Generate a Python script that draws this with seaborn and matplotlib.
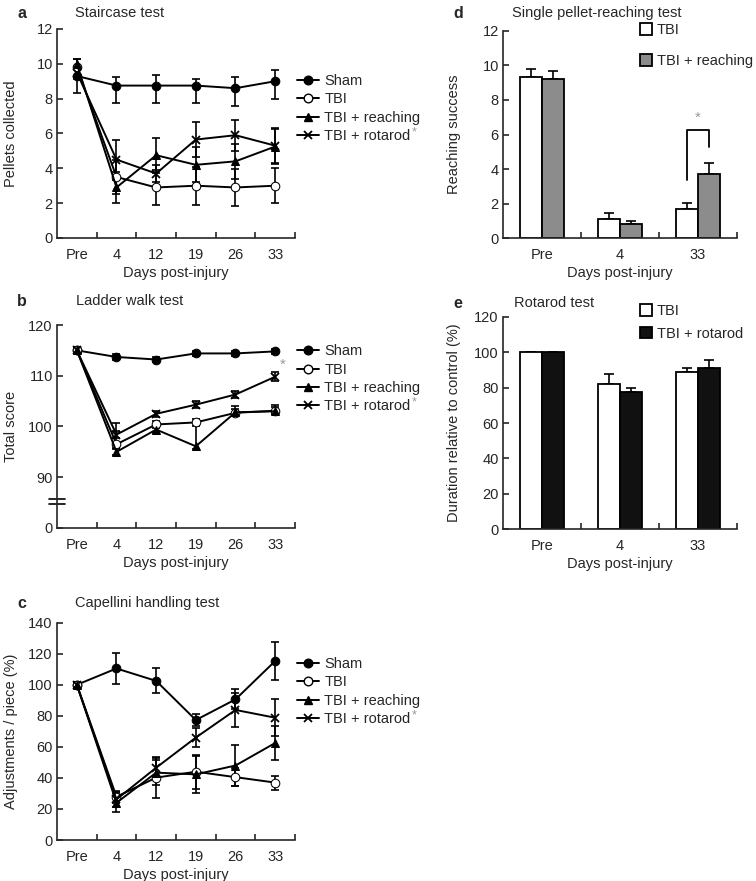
import numpy as np
import pandas as pd
import matplotlib.pyplot as plt
import seaborn as sns
from matplotlib.lines import Line2D
from matplotlib.transforms import blended_transform_factory

sns.set_style("ticks")
plt.rcParams['font.family'] = ['Liberation Sans', 'DejaVu Sans']
plt.rcParams['font.size'] = 10.5
plt.rcParams['axes.linewidth'] = 1.2

# ---- data ----
days = ["Pre", "4", "12", "19", "26", "33"]
groups = ["Sham", "TBI", "TBI + reaching", "TBI + rotarod"]

# a: staircase test (pellets collected)
stair_sham = [9.3, 8.75, 8.75, 8.75, 8.6, 9.0]
stair_sham_err = [[1.0, 1.0, 1.0, 1.0, 1.0, 1.0], [0.5, 0.5, 0.6, 0.35, 0.65, 0.65]]
stair_tbi = [9.8, 3.5, 2.9, 3.0, 2.9, 3.0]
stair_tbi_err = [0.5, 1.0, 1.0, 1.1, 1.05, 1.0]
stair_reach = [10.0, 2.9, 4.75, 4.2, 4.4, 5.25]
stair_reach_err = [0.3, 0.9, 1.0, 1.0, 1.0, 1.0]
stair_rota = [9.5, 4.5, 3.7, 5.65, 5.9, 5.3]
stair_rota_err = [0.4, 1.15, 0.5, 1.0, 0.9, 1.0]

# b: ladder walk test (total score)
ladder_sham = [115.0, 113.7, 113.2, 114.4, 114.4, 114.8]
ladder_sham_err = [0.6, 0.5, 0.5, 0.5, 0.5, 0.5]
ladder_tbi = [115.0, 96.5, 100.4, 100.8, 102.7, 103.1]
ladder_tbi_err = [[0.6, 0.8, 0.7, 0.7, 0.7, 0.7], [0.6, 4.2, 0.7, 0.7, 0.7, 0.7]]
ladder_reach = [115.0, 95.0, 99.4, 96.1, 102.8, 103.0]
ladder_reach_err = [[0.6, 0.6, 0.6, 0.6, 0.6, 0.6], [0.6, 0.6, 0.6, 4.7, 1.2, 1.2]]
ladder_rota = [115.0, 98.4, 102.5, 104.3, 106.3, 109.8]
ladder_rota_err = [0.6, 0.7, 0.6, 0.7, 0.7, 0.9]

# c: capellini handling test (adjustments / piece, %)
cap_sham = [100, 110.5, 102.5, 77.3, 90.6, 115.3]
cap_sham_err = [1.5, 10, 8, 4, 6.5, 12]
cap_tbi = [100, 27.9, 40.2, 44.0, 40.5, 37.0]
cap_tbi_err = [1.5, 4, 13, 11, 6, 4.5]
cap_reach = [100, 24.0, 43.4, 42.3, 48.0, 62.5]
cap_reach_err = [1.5, 6, 8, 12, 13, 11]
cap_rota = [100, 26.2, 46.6, 66.0, 83.8, 78.8]
cap_rota_err = [1.5, 5, 6, 6, 11, 12]

# d: single pellet-reaching test
bar_days = ["Pre", "4", "33"]
reach_tbi = [9.3, 1.1, 1.68]
reach_tbi_err = [0.47, 0.35, 0.38]
reach_train = [9.23, 0.81, 3.72]
reach_train_err = [0.45, 0.2, 0.62]

# e: rotarod test
rota_tbi = [100, 82.1, 89.0]
rota_tbi_err = [0, 5.6, 1.9]
rota_train = [100, 77.7, 91.2]
rota_train_err = [0, 1.9, 4.3]

# ---- styling ----
styles = {
    "Sham": dict(marker="o", mfc="black", ms=6.2),
    "TBI": dict(marker="o", mfc="white", ms=6.2),
    "TBI + reaching": dict(marker="^", mfc="black", ms=6.2),
    "TBI + rotarod": dict(marker="x", mfc="black", ms=6.2, mew=1.3),
}

fig = plt.figure(figsize=(7.56, 8.81), dpi=100)
ax_a = fig.add_axes([0.0754, 0.7299, 0.3148, 0.2372])
ax_b = fig.add_axes([0.0754, 0.4007, 0.3148, 0.2304])
ax_c = fig.add_axes([0.0754, 0.0465, 0.3148, 0.2467])
ax_d = fig.add_axes([0.6653, 0.7295, 0.3095, 0.2356])
ax_e = fig.add_axes([0.6653, 0.3992, 0.3095, 0.2413])

pos = np.arange(len(days))


def line_panel(ax, series, errs, ylim, yticks, ylabels, ylabel, leg_y):
    handles = []
    for g, y, e in zip(groups, series, errs):
        df = pd.DataFrame({"x": pos, "y": y})
        sns.lineplot(data=df, x="x", y="y", ax=ax, color="black", lw=1.4,
                     mec="black", zorder=3, **styles[g])
        ax.errorbar(pos, y, yerr=e, fmt="none", ecolor="black",
                    elinewidth=1.2, capsize=2.8, capthick=1.2, zorder=2)
        handles.append(Line2D([], [], color="black", lw=1.4, mec="black", **styles[g]))
    ax.set_xlim(-0.5, 5.5)
    ax.set_ylim(*ylim)
    ax.set_yticks(yticks)
    ax.set_yticklabels(ylabels)
    ax.set_xticks(pos)
    ax.set_xticklabels(days)
    ax.set_xticks(pos + 0.5, minor=True)
    ax.tick_params(axis="x", which="major", length=0, pad=7)
    ax.tick_params(axis="x", which="minor", direction="in", length=4, width=1.2)
    ax.tick_params(axis="y", direction="in", length=4, width=1.2, pad=3)
    ax.set_xlabel("Days post-injury", labelpad=3)
    ax.set_ylabel(ylabel)
    ax.yaxis.set_label_coords(-0.165, 0.5)
    sns.despine(ax=ax)
    leg = ax.legend(handles, groups, loc="upper left", bbox_to_anchor=(1.01, leg_y),
                    frameon=False, numpoints=1, handlelength=1.5,
                    handletextpad=0.35, labelspacing=0.3, borderaxespad=0,
                    borderpad=0)
    return leg


leg_a = line_panel(ax_a, [stair_sham, stair_tbi, stair_reach, stair_rota],
                   [stair_sham_err, stair_tbi_err, stair_reach_err, stair_rota_err],
                   (0, 12), np.arange(0, 13, 2), [str(v) for v in range(0, 13, 2)],
                   "Pellets collected", 0.785)
leg_b = line_panel(ax_b, [ladder_sham, ladder_tbi, ladder_reach, ladder_rota],
                   [ladder_sham_err, ladder_tbi_err, ladder_reach_err, ladder_rota_err],
                   (80, 120), [80, 90, 100, 110, 120], ["0", "90", "100", "110", "120"],
                   "Total score", 0.905)
leg_c = line_panel(ax_c, [cap_sham, cap_tbi, cap_reach, cap_rota],
                   [cap_sham_err, cap_tbi_err, cap_reach_err, cap_rota_err],
                   (0, 140), np.arange(0, 141, 20), [str(v) for v in range(0, 141, 20)],
                   "Adjustments / piece (%)", 0.842)

# axis break on panel b
tr = blended_transform_factory(ax_b.transAxes, ax_b.transData)
for yb in (85.8, 84.8):
    ax_b.plot([-0.035, 0.035], [yb, yb], color="black", lw=1.2, transform=tr,
              clip_on=False)
ax_b.text(5.18, 112.2, "*", color="#999999", fontsize=11, ha="center", va="center")


def bar_panel(ax, v1, e1, v2, e2, labels, color2, ylim, yticks, ylabel, leg_y, spacing):
    df = pd.DataFrame({"day": bar_days * 2, "val": v1 + v2,
                       "grp": [labels[0]] * 3 + [labels[1]] * 3})
    sns.barplot(data=df, x="day", y="val", hue="grp", ax=ax, errorbar=None,
                palette=["white", color2], edgecolor="black", linewidth=1.3,
                width=0.56, gap=0, saturation=1)
    bars = [p for p in ax.patches if p.get_width() < 1][:6]
    xs = [b.get_x() + b.get_width() / 2 for b in bars]
    hs = [b.get_height() for b in bars]
    errs = e1 + e2
    ax.errorbar(xs, hs, yerr=[np.zeros(6), errs], fmt="none", ecolor="black",
                elinewidth=1.2, capsize=3.5, capthick=1.2, zorder=0)
    ax.set_xlim(-0.5, 2.5)
    ax.set_ylim(*ylim)
    ax.set_yticks(yticks)
    ax.set_xticks([0.5, 1.5, 2.5], minor=True)
    ax.tick_params(axis="x", which="major", length=0, pad=7)
    ax.tick_params(axis="x", which="minor", direction="in", length=4, width=1.2)
    ax.tick_params(axis="y", direction="in", length=4, width=1.2, pad=3)
    ax.set_xlabel("Days post-injury", labelpad=3)
    ax.set_ylabel(ylabel)
    ax.yaxis.set_label_coords(-0.18, 0.5)
    sns.despine(ax=ax)
    h, l = ax.get_legend_handles_labels()
    ax.legend(h, l, loc="upper left", bbox_to_anchor=(0.585, leg_y), frameon=False,
              handlelength=0.85, handleheight=0.85, handletextpad=0.3,
              labelspacing=spacing, borderaxespad=0, borderpad=0)
    return xs


xs_d = bar_panel(ax_d, reach_tbi, reach_tbi_err, reach_train, reach_train_err,
                 ["TBI", "TBI + reaching"], "#8c8c8c", (0, 12), np.arange(0, 13, 2),
                 "Reaching success", 1.036, 1.15)
bar_panel(ax_e, rota_tbi, rota_tbi_err, rota_train, rota_train_err,
          ["TBI", "TBI + rotarod"], "#111111", (0, 120), np.arange(0, 121, 20),
          "Duration relative to control (%)", 1.06, 0.6)

# significance bracket on panel d (33 days)
ax_d.plot([xs_d[2], xs_d[2], xs_d[5], xs_d[5]], [3.37, 6.26, 6.26, 5.3],
          color="black", lw=1.3)
ax_d.text((xs_d[2] + xs_d[5]) / 2, 6.95, "*", color="#999999", fontsize=11,
          ha="center", va="center")

# panel letters and titles
def title(x_px, y_px, letter, text, lx_px):
    fig.text(lx_px / 756, 1 - y_px / 881, letter, fontweight="bold", fontsize=11.5,
             ha="center", va="center")
    fig.text(x_px / 756, 1 - y_px / 881, text, fontsize=10.5, ha="left", va="center")


title(75, 13, "a", "Staircase test", 22)
title(76, 301, "b", "Ladder walk test", 22)
title(75, 603, "c", "Capellini handling test", 22)
title(512, 13, "d", "Single pellet-reaching test", 458)
title(514, 303, "e", "Rotarod test", 458)

# grey asterisk after "TBI + rotarod" in the line-panel legends
fig.canvas.draw()
inv = fig.transFigure.inverted()
for leg in (leg_a, leg_b, leg_c):
    bb = leg.get_texts()[3].get_window_extent()
    x0, y0 = inv.transform((bb.x1, bb.y1))
    fig.text(x0 + 0.001, y0 - 0.004, "*", color="#999999", fontsize=9,
             ha="left", va="center")

fig.savefig("out.png", dpi=100)
